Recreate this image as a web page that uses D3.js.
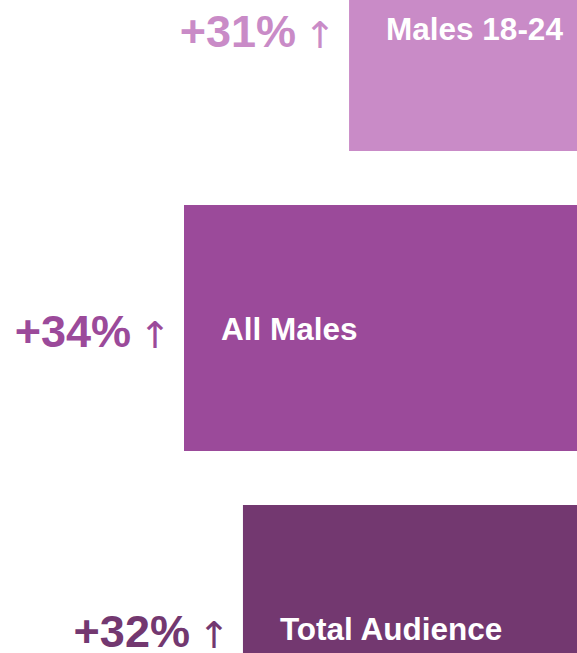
<!DOCTYPE html>
<html>
<head>
<meta charset="utf-8">
<script src="https://cdn.jsdelivr.net/npm/d3@7"></script>
<style>
  html, body { margin: 0; padding: 0; background: #ffffff; }
  svg { display: block; }
</style>
</head>
<body>
<div id="chart"></div>
<script>
// ---- data ----
const categories = ["Males 18-24", "All Males", "Total Audience"];
const audienceIndex = [58, 100, 85];          // relative bar length (All Males = 100)
const growthLabels = ["+31%", "+34%", "+32%"];
const colors = ["#c98bc7", "#9b4a9a", "#733870"];

// ---- layout ----
const W = 577, H = 653;
const svg = d3.select("#chart").append("svg")
  .attr("width", W).attr("height", H);

const x = d3.scaleLinear().domain([0, 100]).range([0, 393]);
const y = d3.scaleBand().domain(categories).range([-95, 751])
  .paddingInner(0.18).paddingOuter(0);

const rows = categories.map((c, i) => ({
  cat: c, v: audienceIndex[i], g: growthLabels[i], col: colors[i]
}));

const font = "'Liberation Sans', Arial, sans-serif";

const row = svg.selectAll("g.row").data(rows).enter().append("g").attr("class", "row");

row.append("rect")
  .attr("x", d => W - x(d.v))
  .attr("y", d => y(d.cat))
  .attr("width", d => x(d.v))
  .attr("height", y.bandwidth())
  .attr("fill", d => d.col);

row.append("text")
  .attr("x", d => W - x(d.v) + 37)
  .attr("y", d => y(d.cat) + y.bandwidth() / 2 + 12)
  .attr("fill", "#ffffff")
  .style("font-family", font)
  .style("font-weight", "bold")
  .style("font-size", "31.5px")
  .text(d => d.cat);

row.append("text")
  .attr("x", d => W - x(d.v) - 45)
  .attr("y", d => y(d.cat) + y.bandwidth() / 2 + 20)
  .attr("fill", d => d.col)
  .attr("textLength", 32)
  .attr("lengthAdjust", "spacingAndGlyphs")
  .style("font-family", "'DejaVu Sans', sans-serif")
  .style("font-size", "37px")
  .text("↑");

row.append("text")
  .attr("x", d => W - x(d.v) - 53)
  .attr("y", d => y(d.cat) + y.bandwidth() / 2 + 19)
  .attr("text-anchor", "end")
  .attr("fill", d => d.col)
  .style("font-family", font)
  .style("font-weight", "bold")
  .style("font-size", "45px")
  .text(d => d.g);
</script>
</body>
</html>
